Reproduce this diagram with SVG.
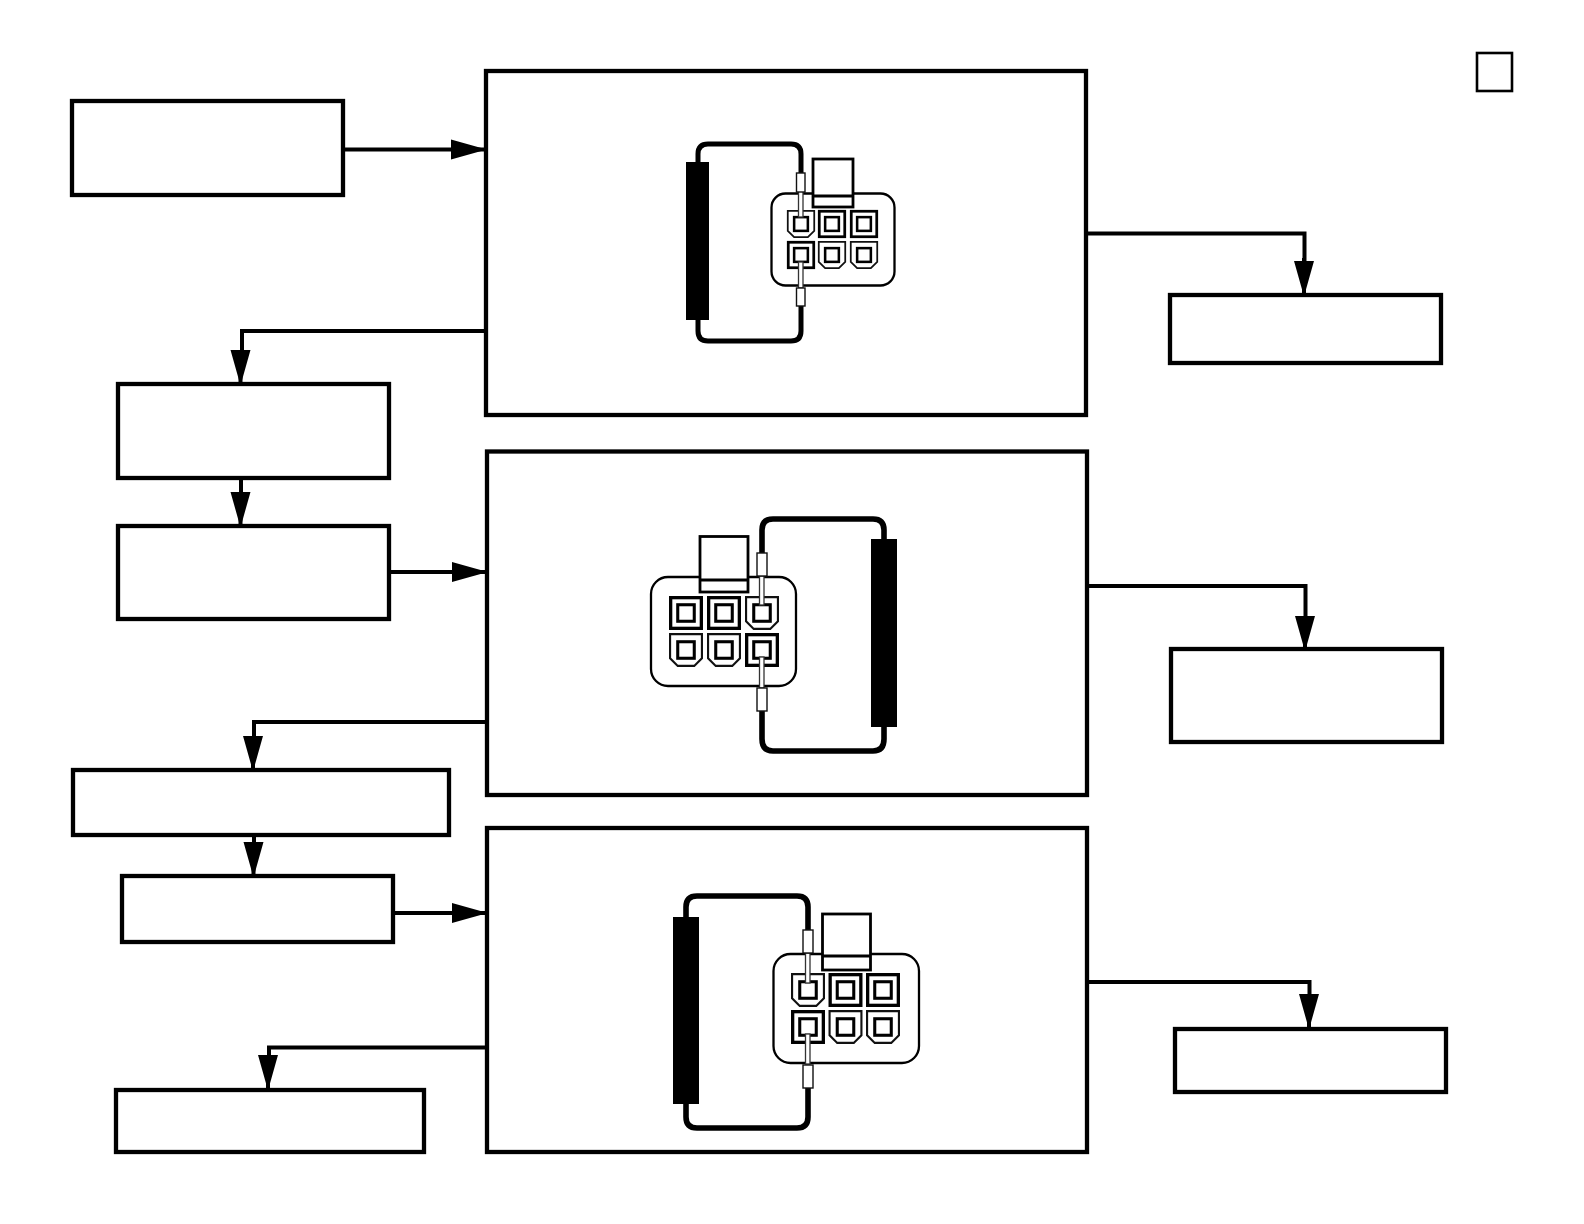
<svg xmlns="http://www.w3.org/2000/svg" xmlns:xlink="http://www.w3.org/1999/xlink" width="1584" height="1224" viewBox="0 0 1584 1224">
<style>
.box{fill:#fff;stroke:#000;stroke-width:4.300}
.conn{fill:none;stroke:#000;stroke-width:4}
.loop{fill:none;stroke:#000;stroke-width:5}
.loop2{fill:none;stroke:#000;stroke-width:5.600}
.body{fill:#fff;stroke:#000;stroke-width:2.300}
.tab{fill:#fff;stroke:#000;stroke-width:2.800}
.tube{fill:#fff;stroke:#111;stroke-width:1.400}
.wire{fill:#fff;stroke:#333;stroke-width:1.300}
.ps{fill:#fff;stroke:#000;stroke-width:2.800}
.pc{fill:#fff;stroke:#111;stroke-width:1.800}
.pi{fill:#fff;stroke:#000;stroke-width:2.600}
</style>
<defs>
<marker id="ah" markerUnits="userSpaceOnUse" markerWidth="36" markerHeight="22" refX="34" refY="11" orient="auto"><path d="M1,1 L34,10.300 V11.700 L1,21 Z" fill="#000"/></marker>
<g id="sq"><rect class="ps" x="-13" y="-13" width="26" height="26"/><rect class="pi" x="-7" y="-7" width="14" height="14"/></g>
<g id="ch"><path class="pc" d="M-13.500,-13.500 H13.500 V7 L7,13.500 H-7 L-13.500,7 Z"/><rect class="pi" x="-7" y="-7" width="14" height="14"/></g>
</defs>
<g id="connectors">
<path class="conn" marker-end="url(#ah)" d="M343,149.500 H484"/>
<path class="conn" marker-end="url(#ah)" d="M1086,233.500 H1304.500 V260 H1304 V294"/>
<path class="conn" marker-end="url(#ah)" d="M486,331 H242 V360 H240.500 V383"/>
<path class="conn" marker-end="url(#ah)" d="M241,478 V500 H240.500 V525"/>
<path class="conn" marker-end="url(#ah)" d="M389,572 H485"/>
<path class="conn" marker-end="url(#ah)" d="M1087,586 H1305.500 V620 H1305 V649"/>
<path class="conn" marker-end="url(#ah)" d="M487,722 H254 V745 H253 V769"/>
<path class="conn" marker-end="url(#ah)" d="M254,835 V855 H253.500 V875"/>
<path class="conn" marker-end="url(#ah)" d="M393,913 H485"/>
<path class="conn" marker-end="url(#ah)" d="M1087,982 H1309.500 V1005 H1309 V1027"/>
<path class="conn" marker-end="url(#ah)" d="M487,1047.500 H269 V1070 H268 V1088"/>
</g>
<g id="box-a"><rect class="box" x="72" y="101" width="271" height="94"/></g>
<g id="box-b"><rect class="box" x="1170" y="295" width="271" height="68"/></g>
<g id="box-c"><rect class="box" x="118" y="384" width="271" height="94"/></g>
<g id="box-d"><rect class="box" x="118" y="526" width="271" height="93"/></g>
<g id="box-e"><rect class="box" x="1171" y="649" width="271" height="93"/></g>
<g id="box-f"><rect class="box" x="73" y="770" width="376" height="65"/></g>
<g id="box-g"><rect class="box" x="122" y="876" width="271" height="66"/></g>
<g id="box-h"><rect class="box" x="1175" y="1029" width="271" height="63"/></g>
<g id="box-i"><rect class="box" x="116" y="1090" width="308" height="62"/></g>
<g id="legend"><rect fill="#fff" stroke="#000" stroke-width="2.600" x="1477" y="53" width="35" height="38"/></g>
<g id="panel-1">
<rect class="box" x="486" y="71" width="600" height="344"/>
<rect x="686" y="162" width="23" height="158" fill="#000"/>
<path class="loop" d="M698,162 V154 Q698,144 708,144 H791 Q801,144 801,154 V173 M801,306 V331 Q801,341 791,341 H708 Q698,341 698,331 V320"/>
<rect class="body" x="771.500" y="193.500" width="123" height="92" rx="14"/>
<rect class="tab" x="813" y="159" width="40" height="48"/>
<path d="M813,196 H853" stroke="#000" stroke-width="3"/>
<use xlink:href="#ch" transform="translate(801,224) scale(.98)"/>
<use xlink:href="#sq" transform="translate(832,224) scale(.98)"/>
<use xlink:href="#sq" transform="translate(864,224) scale(.98)"/>
<use xlink:href="#sq" transform="translate(801,255) scale(.98)"/>
<use xlink:href="#ch" transform="translate(832,255) scale(.98)"/>
<use xlink:href="#ch" transform="translate(864,255) scale(.98)"/>
<rect class="wire" x="798.500" y="191" width="4.500" height="26"/>
<rect class="wire" x="798.500" y="262" width="4.500" height="26"/>
<rect class="tube" x="796.500" y="173" width="8.500" height="19"/>
<rect class="tube" x="796.500" y="288" width="8.500" height="18"/>
</g>
<g id="panel-2">
<rect class="box" x="487" y="451.500" width="600" height="343.500"/>
<rect x="871" y="539" width="26" height="188" fill="#000"/>
<path class="loop2" d="M884,539 V530 Q884,519 873,519 H773 Q762,519 762,530 V553 M762,711 V739 Q762,751 773,751 H873 Q884,751 884,739 V727"/>
<rect class="body" x="651" y="577" width="145" height="109" rx="17"/>
<rect class="tab" x="700" y="536.500" width="48" height="55.500"/>
<path d="M700,580 H748" stroke="#000" stroke-width="3"/>
<use xlink:href="#sq" transform="translate(686,613) scale(1.18)"/>
<use xlink:href="#sq" transform="translate(724,613) scale(1.18)"/>
<use xlink:href="#ch" transform="translate(762,613) scale(1.18)"/>
<use xlink:href="#ch" transform="translate(686,650) scale(1.18)"/>
<use xlink:href="#ch" transform="translate(724,650) scale(1.18)"/>
<use xlink:href="#sq" transform="translate(762,650) scale(1.18)"/>
<rect class="wire" x="759.500" y="576" width="4.500" height="29"/>
<rect class="wire" x="759.500" y="657" width="4.500" height="31"/>
<rect class="tube" x="757" y="553" width="10" height="23"/>
<rect class="tube" x="757" y="688" width="10" height="23"/>
</g>
<g id="panel-3">
<rect class="box" x="487" y="828" width="600" height="324"/>
<rect x="673" y="917" width="26" height="187" fill="#000"/>
<path class="loop2" d="M686,917 V907 Q686,896 697,896 H797 Q808,896 808,907 V930 M808,1088 V1117 Q808,1128 797,1128 H697 Q686,1128 686,1117 V1104"/>
<rect class="body" x="773.500" y="954" width="145.500" height="109" rx="17"/>
<rect class="tab" x="822.500" y="914" width="48" height="56"/>
<path d="M822,956 H870" stroke="#000" stroke-width="3"/>
<use xlink:href="#ch" transform="translate(808,990) scale(1.18)"/>
<use xlink:href="#sq" transform="translate(845.500,990) scale(1.18)"/>
<use xlink:href="#sq" transform="translate(883,990) scale(1.18)"/>
<use xlink:href="#sq" transform="translate(808,1027) scale(1.18)"/>
<use xlink:href="#ch" transform="translate(845.500,1027) scale(1.18)"/>
<use xlink:href="#ch" transform="translate(883,1027) scale(1.18)"/>
<rect class="wire" x="805.500" y="953" width="4.500" height="30"/>
<rect class="wire" x="805.500" y="1034" width="4.500" height="30"/>
<rect class="tube" x="803" y="930" width="10" height="23"/>
<rect class="tube" x="803" y="1065" width="10" height="23"/>
</g>
</svg>
